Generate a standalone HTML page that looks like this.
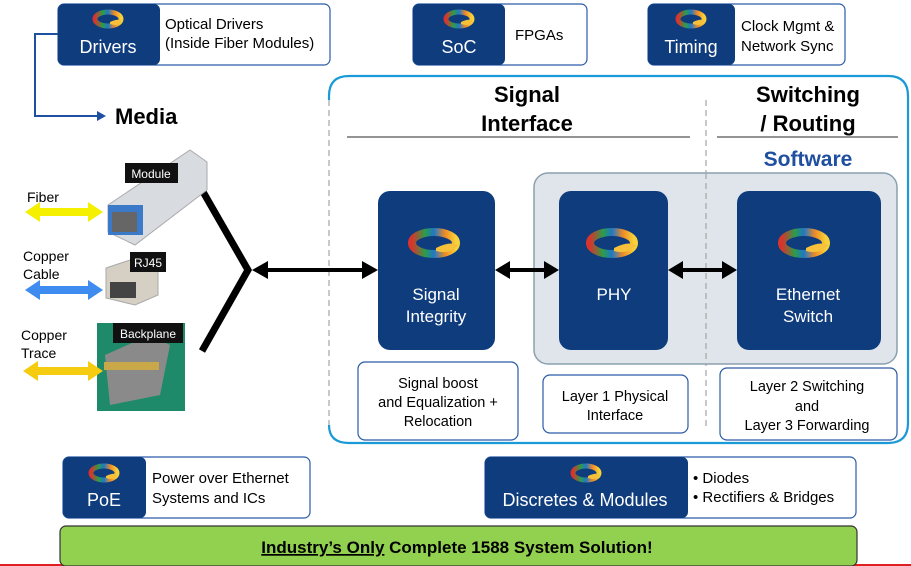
<!DOCTYPE html>
<html><head><meta charset="utf-8"><style>
html,body{margin:0;padding:0;background:#fff;}
svg{display:block;font-family:"Liberation Sans",Arial,sans-serif;}
</style></head><body>
<svg width="911" height="566" viewBox="0 0 911 566" xmlns="http://www.w3.org/2000/svg">
<defs>
<linearGradient id="lg" x1="0" y1="0" x2="1" y2="0">
<stop offset="0" stop-color="#d9342b"/><stop offset="0.3" stop-color="#2a9d4a"/><stop offset="0.5" stop-color="#1f78c8"/><stop offset="0.75" stop-color="#f08a24"/><stop offset="1" stop-color="#f6d23a"/>
</linearGradient>
<g id="logo"><ellipse cx="0" cy="0" rx="13" ry="7" fill="none" stroke="url(#lg)" stroke-width="5"/><path d="M2 3 Q10 -1 14 2 Q10 8 2 5Z" fill="#f6c03a"/></g>
<g id="logoL"><ellipse cx="0" cy="0" rx="22" ry="11" fill="none" stroke="url(#lg)" stroke-width="8"/><path d="M2 5 Q16 -2 24 2 Q16 12 2 8Z" fill="#f6c03a"/></g>
</defs>

<!-- top boxes -->
<rect x="58" y="4" width="272" height="61" rx="6" fill="#fff" stroke="#2b5aa6" stroke-width="1.2"/>
<rect x="58" y="4" width="102" height="61" rx="6" fill="#0f3c7d"/>
<use href="#logo" x="108" y="19"/>
<text x="108" y="53" fill="#fff" font-size="18" text-anchor="middle">Drivers</text>
<text x="165" y="29" font-size="15">Optical Drivers</text>
<text x="165" y="48" font-size="15">(Inside Fiber Modules)</text>

<rect x="413" y="4" width="174" height="61" rx="6" fill="#fff" stroke="#2b5aa6" stroke-width="1.2"/>
<rect x="413" y="4" width="92" height="61" rx="6" fill="#0f3c7d"/>
<use href="#logo" x="459" y="19"/>
<text x="459" y="53" fill="#fff" font-size="18" text-anchor="middle">SoC</text>
<text x="515" y="40" font-size="15">FPGAs</text>

<rect x="648" y="4" width="197" height="61" rx="6" fill="#fff" stroke="#2b5aa6" stroke-width="1.2"/>
<rect x="648" y="4" width="87" height="61" rx="6" fill="#0f3c7d"/>
<use href="#logo" x="691" y="19"/>
<text x="691" y="53" fill="#fff" font-size="18" text-anchor="middle">Timing</text>
<text x="741" y="31" font-size="15">Clock Mgmt &amp;</text>
<text x="741" y="51" font-size="15">Network Sync</text>

<!-- media arrow -->
<polyline points="58,34 35,34 35,116 97,116" fill="none" stroke="#1f4fa0" stroke-width="2"/>
<path d="M97,111 L106,116 L97,121Z" fill="#1f4fa0"/>
<text x="115" y="124" font-size="22" font-weight="bold">Media</text>

<!-- big container (left side dashed gray) -->
<path d="M329,100 L329,96 Q329,76 349,76 L888,76 Q908,76 908,96 L908,423 Q908,443 888,443 L349,443 Q329,443 329,425" fill="none" stroke="#1a9ad6" stroke-width="2.2"/>
<line x1="329" y1="100" x2="329" y2="425" stroke="#aaa" stroke-width="1.3" stroke-dasharray="6,4"/>
<line x1="706" y1="100" x2="706" y2="430" stroke="#aaa" stroke-width="1.3" stroke-dasharray="6,4"/>
<text x="527" y="102" font-size="22" font-weight="bold" text-anchor="middle">Signal</text>
<text x="527" y="131" font-size="22" font-weight="bold" text-anchor="middle">Interface</text>
<line x1="347" y1="137" x2="690" y2="137" stroke="#555" stroke-width="1.2"/>
<text x="808" y="102" font-size="22" font-weight="bold" text-anchor="middle">Switching</text>
<text x="808" y="131" font-size="22" font-weight="bold" text-anchor="middle">/ Routing</text>
<line x1="717" y1="137" x2="898" y2="137" stroke="#555" stroke-width="1.2"/>
<text x="808" y="166" font-size="21" font-weight="bold" fill="#1f4fa0" text-anchor="middle">Software</text>

<rect x="534" y="173" width="363" height="191" rx="14" fill="#dfe5ea" stroke="#8aa0b0" stroke-width="1.5"/>
<line x1="706" y1="173" x2="706" y2="364" stroke="#aaa" stroke-width="1.3" stroke-dasharray="6,4"/>

<rect x="378" y="191" width="117" height="159" rx="12" fill="#0f3c7d"/>
<use href="#logoL" x="434" y="243"/>
<text x="436" y="300" fill="#fff" font-size="17" text-anchor="middle">Signal</text>
<text x="436" y="322" fill="#fff" font-size="17" text-anchor="middle">Integrity</text>

<rect x="559" y="191" width="109" height="159" rx="12" fill="#0f3c7d"/>
<use href="#logoL" x="612" y="243"/>
<text x="614" y="300" fill="#fff" font-size="17" text-anchor="middle">PHY</text>

<rect x="737" y="191" width="144" height="159" rx="12" fill="#0f3c7d"/>
<use href="#logoL" x="804" y="243"/>
<text x="808" y="300" fill="#fff" font-size="17" text-anchor="middle">Ethernet</text>
<text x="808" y="322" fill="#fff" font-size="17" text-anchor="middle">Switch</text>

<rect x="358" y="362" width="160" height="78" rx="7" fill="#fff" stroke="#2b5aa6" stroke-width="1.2"/>
<text x="438" y="388" font-size="14.5" text-anchor="middle">Signal boost</text>
<text x="438" y="407" font-size="14.5" text-anchor="middle">and Equalization +</text>
<text x="438" y="426" font-size="14.5" text-anchor="middle">Relocation</text>
<rect x="543" y="375" width="145" height="58" rx="7" fill="#fff" stroke="#2b5aa6" stroke-width="1.2"/>
<text x="615" y="401" font-size="14.5" text-anchor="middle">Layer 1 Physical</text>
<text x="615" y="420" font-size="14.5" text-anchor="middle">Interface</text>
<rect x="720" y="368" width="177" height="72" rx="7" fill="#fff" stroke="#2b5aa6" stroke-width="1.2"/>
<text x="807" y="391" font-size="14.5" text-anchor="middle">Layer 2 Switching</text>
<text x="807" y="411" font-size="14.5" text-anchor="middle">and</text>
<text x="807" y="430" font-size="14.5" text-anchor="middle">Layer 3 Forwarding</text>

<!-- black arrows -->
<polyline points="202,190 248,270 202,351" fill="none" stroke="#000" stroke-width="7"/>
<line x1="262" y1="270" x2="366" y2="270" stroke="#000" stroke-width="4"/>
<path d="M252,270 L268,261 L268,279Z M378,270 L362,261 L362,279Z" fill="#000"/>
<line x1="505" y1="270" x2="549" y2="270" stroke="#000" stroke-width="4"/>
<path d="M495,270 L510,261 L510,279Z M559,270 L544,261 L544,279Z" fill="#000"/>
<line x1="678" y1="270" x2="727" y2="270" stroke="#000" stroke-width="4"/>
<path d="M668,270 L683,261 L683,279Z M737,270 L722,261 L722,279Z" fill="#000"/>

<!-- media images -->
<polygon points="108,205 190,150 207,162 207,190 135,245 108,232" fill="#d8dbe0" stroke="#aaa"/>
<rect x="108" y="205" width="35" height="30" fill="#3a7ac8"/>
<rect x="112" y="212" width="25" height="20" fill="#666"/>
<rect x="125" y="163" width="53" height="20" fill="#111"/>
<text x="151" y="178" fill="#fff" font-size="12" text-anchor="middle">Module</text>
<polygon points="106,268 145,255 158,262 158,295 135,305 106,298" fill="#d6d0c4" stroke="#aaa"/>
<rect x="110" y="282" width="26" height="16" fill="#444"/>
<rect x="130" y="252" width="36" height="20" fill="#111"/>
<text x="148" y="267" fill="#fff" font-size="12" text-anchor="middle">RJ45</text>
<rect x="97" y="323" width="88" height="88" fill="#1f8a6a"/>
<polygon points="105,355 150,335 170,345 160,395 110,405" fill="#8a8a8a"/>
<rect x="104" y="362" width="55" height="8" fill="#c9a84a"/>
<rect x="113" y="323" width="70" height="20" fill="#111"/>
<text x="148" y="338" fill="#fff" font-size="12" text-anchor="middle">Backplane</text>

<!-- side arrows -->
<text x="27" y="202" font-size="14">Fiber</text>
<path d="M25,212 L40,202 L40,208 L88,208 L88,202 L103,212 L88,222 L88,216 L40,216 L40,222Z" fill="#f5f000"/>
<text x="23" y="261" font-size="14">Copper</text>
<text x="23" y="279" font-size="14">Cable</text>
<path d="M25,290 L40,280 L40,286 L88,286 L88,280 L103,290 L88,300 L88,294 L40,294 L40,300Z" fill="#3f8cf0"/>
<text x="21" y="340" font-size="14">Copper</text>
<text x="21" y="358" font-size="14">Trace</text>
<path d="M23,371 L38,361 L38,367 L88,367 L88,361 L103,371 L88,381 L88,375 L38,375 L38,381Z" fill="#f5cc10"/>

<!-- bottom boxes -->
<rect x="63" y="457" width="247" height="61" rx="6" fill="#fff" stroke="#2b5aa6" stroke-width="1.2"/>
<rect x="63" y="457" width="83" height="61" rx="6" fill="#0f3c7d"/>
<use href="#logo" x="104" y="473"/>
<text x="104" y="506" fill="#fff" font-size="18" text-anchor="middle">PoE</text>
<text x="152" y="483" font-size="15">Power over Ethernet</text>
<text x="152" y="503" font-size="15">Systems and ICs</text>

<rect x="485" y="457" width="371" height="61" rx="6" fill="#fff" stroke="#2b5aa6" stroke-width="1.2"/>
<rect x="485" y="457" width="203" height="61" rx="6" fill="#0f3c7d"/>
<use href="#logo" x="586" y="473"/>
<text x="585" y="506" fill="#fff" font-size="18" text-anchor="middle">Discretes &amp; Modules</text>
<text x="693" y="483" font-size="15">• Diodes</text>
<text x="693" y="502" font-size="15">• Rectifiers &amp; Bridges</text>

<line x1="0" y1="565" x2="911" y2="565" stroke="#e02020" stroke-width="2"/>
<rect x="60" y="526" width="797" height="40" rx="6" fill="#92d050" stroke="#333" stroke-width="1.2"/>
<text x="457" y="553" font-size="17" font-weight="bold" text-anchor="middle"><tspan text-decoration="underline">Industry’s Only</tspan> Complete 1588 System Solution!</text>
</svg>
</body></html>
